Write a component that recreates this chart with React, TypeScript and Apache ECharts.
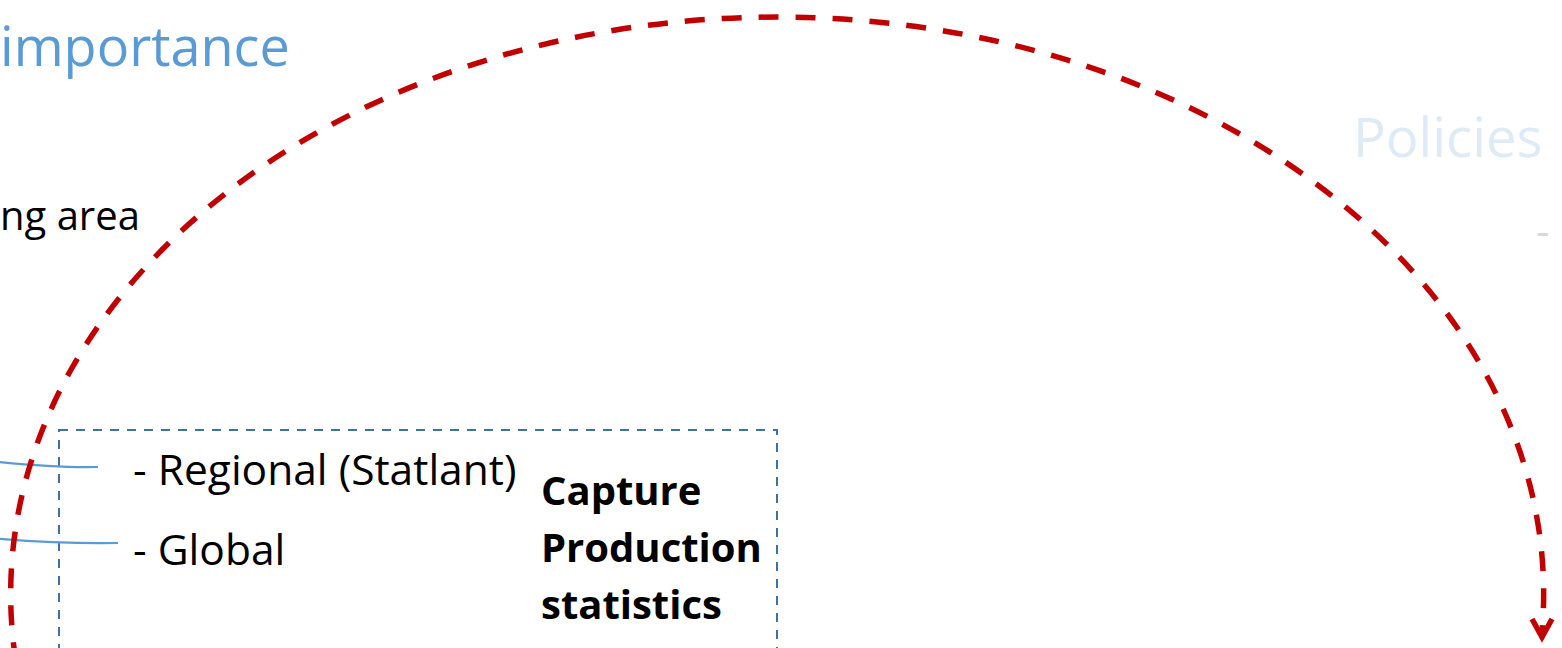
import React, { useEffect, useRef } from "react";
import * as echarts from "echarts";

// ---- content (text only) ----
const headingTexts = ["importance", "Policies"];
const bodyTexts = ["ng area"];
const listItems = ["- Regional (Statlant)", "- Global"];
const boxTitleLines = ["Capture", "Production", "statistics"];
const fadedMarks = ["-"];

const FONT = "'Open Sans', 'Noto Sans', sans-serif";
const RED = "#C00000";
const BLUE = "#5B9BD5";
const BOX_BLUE = "#41719C";

// elliptical dashed arc (large arc over the top)
echarts.graphic.registerShape(
  "bigArc",
  echarts.graphic.extendPath("M 16 662 A 766.5 577 0 1 1 1542 632", {})
);

export default function App() {
  const ref = useRef<HTMLDivElement>(null);

  useEffect(() => {
    if (!ref.current) return;
    const chart = echarts.init(ref.current, null, { renderer: "svg" });

    const text = (
      t: string,
      x: number,
      y: number,
      size: number,
      fill: string,
      bold = false
    ) => ({
      type: "text",
      x,
      y,
      z: 10,
      style: {
        text: t,
        fontFamily: FONT,
        fontSize: size,
        fontWeight: bold ? "bold" : "normal",
        fill,
        align: "left",
        verticalAlign: "middle",
      },
    });

    const elements: any[] = [
      // headings
      text(headingTexts[0], 0, 45, 54, BLUE),
      text(headingTexts[1], 1353, 136, 54.5, "#DEEBF7"),
      text(fadedMarks[0], 1536, 229, 42, "#D9D9D9"),
      // body
      text(bodyTexts[0], 0, 214, 40, "#000000"),
      // list items
      text(listItems[0], 133, 468, 42.5, "#000000"),
      text(listItems[1], 133, 548, 42.5, "#000000"),
      // box title
      ...boxTitleLines.map((l, i) => text(l, 541, 489 + i * 57, 40, "#000000", true)),
      // dashed box
      {
        type: "rect",
        z: 2,
        shape: { x: 59, y: 430, width: 718, height: 320 },
        style: { fill: "none", stroke: BOX_BLUE, lineWidth: 2, lineDash: [9, 8] },
      },
      // connectors
      {
        type: "bezierCurve",
        z: 3,
        shape: { x1: -10, y1: 461, cpx1: 55, cpy1: 468, x2: 98, y2: 467 },
        style: { fill: "none", stroke: BLUE, lineWidth: 2.2 },
      },
      {
        type: "bezierCurve",
        z: 3,
        shape: { x1: -10, y1: 538, cpx1: 60, cpy1: 544, x2: 118, y2: 543 },
        style: { fill: "none", stroke: BLUE, lineWidth: 2.2 },
      },
      // red dashed arc
      {
        type: "bigArc",
        z: 5,
        x: 0,
        y: 0,
        style: { fill: "none", stroke: RED, lineWidth: 5.5, lineDash: [20, 17] },
      },
      // arrow head
      {
        type: "polyline",
        z: 5,
        shape: { points: [[1532, 619], [1542, 637], [1552, 619]] },
        style: { fill: "none", stroke: RED, lineWidth: 5.5, lineJoin: "miter" },
      },
    ];

    chart.setOption({
      animation: false,
      backgroundColor: "#FFFFFF",
      graphic: { elements },
    });

    return () => chart.dispose();
  }, []);

  return (
    <div
      ref={ref}
      style={{ position: "fixed", left: 0, top: 0, width: 1562, height: 648 }}
    />
  );
}
